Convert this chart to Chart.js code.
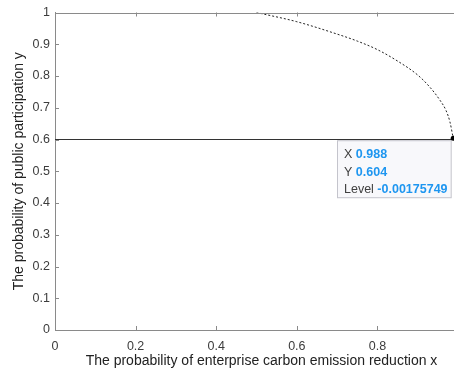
<!DOCTYPE html>
<html>
<head>
<meta charset="utf-8">
<script src="https://cdn.jsdelivr.net/npm/chart.js@4/dist/chart.umd.min.js"></script>
<style>
  html, body { margin: 0; padding: 0; background: #fff; }
  #wrap { width: 454px; height: 373px; position: relative; }
</style>
</head>
<body>
<div id="wrap"><canvas id="c"></canvas></div>
<script>
'use strict';

// contour level curve (dashed)
const curveX = [0.5, 0.6, 0.7, 0.75, 0.8, 0.85, 0.9, 0.93, 0.955, 0.97, 0.98, 0.988];
const curveY = [1.0, 0.971, 0.932, 0.91, 0.883, 0.847, 0.803, 0.765, 0.724, 0.692, 0.655, 0.604];

// solid horizontal line
const flatX = [0, 0.988];
const flatY = [0.6, 0.6];

// data tip
const tipX = 0.988;
const tipY = 0.604;
const tipLevel = '-0.00175749';

const xTicks = [0, 0.2, 0.4, 0.6, 0.8];
const yTicks = [0, 0.1, 0.2, 0.3, 0.4, 0.5, 0.6, 0.7, 0.8, 0.9, 1];

const xTitle = 'The probability of enterprise carbon emission reduction x';
const yTitle = 'The probability of public participation y';

const FONT = '"Liberation Sans", Arial, sans-serif';
const AXIS_COLOR = '#8a8a8a';
const TEXT_COLOR = '#3c3c3c';

function toPoints(xs, ys) {
  return xs.map((x, i) => ({ x: x, y: ys[i] }));
}

// MATLAB-like inside ticks, top frame line and axis titles
const frame = {
  id: 'frame',
  afterDatasetsDraw(chart) {
    const { ctx, chartArea: a, scales: { x, y } } = chart;
    ctx.save();
    ctx.strokeStyle = AXIS_COLOR;
    ctx.lineWidth = 1;
    ctx.beginPath();
    ctx.moveTo(a.left, Math.round(a.top) + 0.5);
    ctx.lineTo(a.right, Math.round(a.top) + 0.5);
    xTicks.forEach(v => {
      const px = Math.round(x.getPixelForValue(v)) + 0.5;
      ctx.moveTo(px, a.bottom); ctx.lineTo(px, a.bottom - 4);
      ctx.moveTo(px, a.top); ctx.lineTo(px, a.top + 4);
    });
    yTicks.forEach(v => {
      const py = Math.round(y.getPixelForValue(v)) + 0.5;
      ctx.moveTo(a.left, py); ctx.lineTo(a.left + 4, py);
    });
    ctx.stroke();

    ctx.fillStyle = '#222';
    ctx.font = '14px ' + FONT;
    ctx.textAlign = 'center';
    ctx.textBaseline = 'middle';
    ctx.fillText(xTitle, (a.left + a.right) / 2 + 7, a.bottom + 31);
    ctx.translate(19, (a.top + a.bottom) / 2);
    ctx.rotate(-Math.PI / 2);
    ctx.fillText(yTitle, 0, 0);
    ctx.restore();
  }
};

// data tip box
const dataTip = {
  id: 'dataTip',
  afterDraw(chart) {
    const { ctx, scales: { x, y } } = chart;
    const px = x.getPixelForValue(tipX);
    const py = y.getPixelForValue(tipY);
    const bx = 337.5, by = py + 2.5, bw = px - 2 - bx, bh = 57;
    ctx.save();
    ctx.fillStyle = '#f8f8fb';
    ctx.strokeStyle = '#c4c4cc';
    ctx.lineWidth = 1;
    ctx.fillRect(bx, by, bw, bh);
    ctx.strokeRect(bx, by, bw, bh);

    const rows = [['X ', String(tipX)], ['Y ', String(tipY)], ['Level ', tipLevel]];
    ctx.textBaseline = 'middle';
    rows.forEach((r, i) => {
      const ty = by + 14 + i * 17.5;
      ctx.font = '12.5px ' + FONT;
      ctx.fillStyle = '#404040';
      ctx.fillText(r[0], bx + 6.5, ty);
      const w = ctx.measureText(r[0]).width;
      ctx.font = 'bold 12.5px ' + FONT;
      ctx.fillStyle = '#1e96f0';
      ctx.fillText(r[1], bx + 6.5 + w, ty);
    });

    ctx.fillStyle = '#000';
    ctx.beginPath();
    ctx.arc(px, py, 2.5, 0, Math.PI * 2);
    ctx.fill();
    ctx.restore();
  }
};

new Chart(document.getElementById('c'), {
  type: 'scatter',
  data: {
    datasets: [
      {
        data: toPoints(curveX, curveY),
        showLine: true,
        borderColor: '#222',
        borderWidth: 1,
        borderDash: [2, 2],
        pointRadius: 0,
        cubicInterpolationMode: 'monotone'
      },
      {
        data: toPoints(flatX, flatY),
        showLine: true,
        borderColor: '#333',
        borderWidth: 1,
        pointRadius: 0
      }
    ]
  },
  options: {
    responsive: true,
    maintainAspectRatio: false,
    animation: false,
    layout: { padding: { top: 12, right: 0, left: 0, bottom: 0 } },
    plugins: { legend: { display: false }, tooltip: { enabled: false } },
    scales: {
      x: {
        type: 'linear',
        min: 0,
        max: 0.99,
        afterBuildTicks: s => { s.ticks = xTicks.map(v => ({ value: v })); },
        afterFit: s => { s.height = 43; },
        grid: { display: false, drawTicks: false },
        border: { display: true, color: AXIS_COLOR },
        ticks: {
          color: TEXT_COLOR,
          font: { family: FONT, size: 12.5 },
          padding: 9,
          maxRotation: 0,
          callback: v => String(v)
        }
      },
      y: {
        type: 'linear',
        min: 0,
        max: 1,
        afterBuildTicks: s => { s.ticks = yTicks.map(v => ({ value: v })); },
        afterFit: s => { s.width = 55; },
        grid: { display: false, drawTicks: false },
        border: { display: true, color: AXIS_COLOR },
        ticks: {
          color: TEXT_COLOR,
          font: { family: FONT, size: 12.5 },
          padding: 5,
          callback: v => String(v)
        }
      }
    }
  },
  plugins: [frame, dataTip]
});
</script>
</body>
</html>
